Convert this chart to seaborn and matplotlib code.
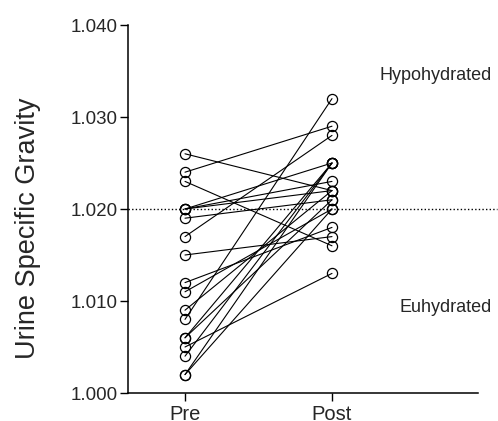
import matplotlib
matplotlib.use("Agg")
import matplotlib.pyplot as plt
import seaborn as sns
import pandas as pd

# ---- data ----
timepoints = ["Pre", "Post"]
pre_usg = [1.026, 1.024, 1.023, 1.020, 1.020, 1.020, 1.019, 1.017, 1.015,
           1.012, 1.011, 1.009, 1.008, 1.006, 1.006, 1.005, 1.004, 1.002, 1.002]
post_usg = [1.022, 1.029, 1.016, 1.025, 1.023, 1.022, 1.021, 1.028, 1.017,
            1.018, 1.020, 1.022, 1.032, 1.025, 1.021, 1.013, 1.025, 1.025, 1.020]
y_ticks = [1.000, 1.010, 1.020, 1.030, 1.040]
y_tick_labels = ["1.000", "1.010", "1.020", "1.030", "1.040"]
threshold = 1.020
zone_labels = ["Hypohydrated", "Euhydrated"]

rows = []
for i, (a, b) in enumerate(zip(pre_usg, post_usg)):
    rows.append({"subject": i, "time": timepoints[0], "usg": a})
    rows.append({"subject": i, "time": timepoints[1], "usg": b})
df = pd.DataFrame(rows)

sns.set_style("ticks")
plt.rcParams["font.family"] = ["Liberation Sans", "DejaVu Sans"]

W, H = 498, 421
fig = plt.figure(figsize=(W / 100, H / 100), dpi=100)
left, right, top, bottom = 128, 478, 25, 393
ax = fig.add_axes([left / W, (H - bottom) / H, (right - left) / W, (bottom - top) / H])

sns.lineplot(data=df, x="time", y="usg", units="subject", estimator=None,
             color="black", linewidth=0.8, marker="o", markersize=7.3,
             markerfacecolor="none", markeredgecolor="black",
             markeredgewidth=0.9, sort=False, ax=ax)

ax.set_ylim(1.000, 1.040)
ax.set_xlim(-57 / 147, (right - 185) / 147)
ax.set_yticks(y_ticks)
ax.set_yticklabels(y_tick_labels)
ax.set_xticks([0, 1])
ax.set_xticklabels(timepoints)
ax.tick_params(axis="y", labelsize=13.5, length=6, width=1, color="black", pad=1.5)
ax.tick_params(axis="x", labelsize=14.5, length=6, width=1, color="black", pad=3)
for s in ["left", "bottom"]:
    ax.spines[s].set_linewidth(1.1)
    ax.spines[s].set_color("black")
sns.despine(ax=ax)

ax.set_xlabel("")
ax.set_ylabel("Urine Specific Gravity", fontsize=19.5)
ax.yaxis.label.set_va("center")
ax.yaxis.set_label_coords((28 - left) / (right - left), (bottom - 228) / (bottom - top))

# dotted threshold line extending to figure edge
x_end = (497 - left) / (right - left)
ax.plot([0, x_end], [threshold, threshold], transform=ax.get_yaxis_transform(),
        color="black", linewidth=1.0, linestyle=(0, (1, 1.6)), clip_on=False)

fig.text(492 / W, 1 - 75 / H, zone_labels[0], ha="right", va="center", fontsize=13)
fig.text(492 / W, 1 - 307 / H, zone_labels[1], ha="right", va="center", fontsize=13)

fig.savefig("out.png", dpi=100)
